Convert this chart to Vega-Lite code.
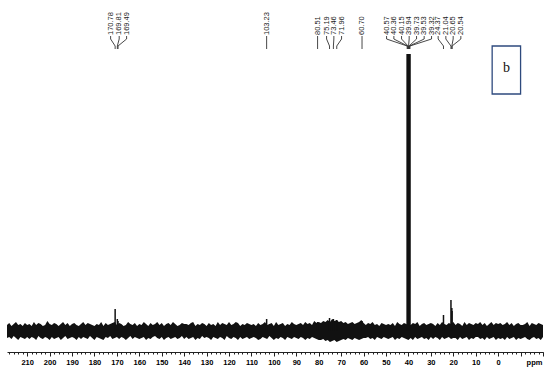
{
  "$schema": "https://vega.github.io/schema/vega-lite/v6.json",
  "width": 536,
  "height": 352,
  "autosize": {"type": "none"},
  "padding": {"left": 7, "right": 7, "top": 0, "bottom": 21},
  "background": "white",
  "config": {"view": {"stroke": null}},
  "resolve": {"axis": {"x": "independent"}},
  "datasets": {
    "noise": [
      {"p":219,"h":6,"l":-7},{"p":218,"h":8,"l":-6},{"p":217,"h":5,"l":-8},{"p":216,"h":7,"l":-5},{"p":215,"h":9,"l":-7},{"p":214,"h":6,"l":-9},{"p":213,"h":7,"l":-6},{"p":212,"h":5,"l":-7},{"p":211,"h":8,"l":-8},{"p":210,"h":6,"l":-6},
      {"p":209,"h":7,"l":-8},{"p":208,"h":5,"l":-6},{"p":207,"h":9,"l":-7},{"p":206,"h":6,"l":-9},{"p":205,"h":8,"l":-5},{"p":204,"h":7,"l":-7},{"p":203,"h":5,"l":-8},{"p":202,"h":6,"l":-6},{"p":201,"h":10,"l":-7},{"p":200,"h":7,"l":-9},
      {"p":199,"h":6,"l":-6},{"p":198,"h":8,"l":-8},{"p":197,"h":7,"l":-7},{"p":196,"h":5,"l":-6},{"p":195,"h":7,"l":-9},{"p":194,"h":9,"l":-7},{"p":193,"h":6,"l":-5},{"p":192,"h":8,"l":-8},{"p":191,"h":5,"l":-7},{"p":190,"h":7,"l":-6},
      {"p":189,"h":8,"l":-7},{"p":188,"h":6,"l":-9},{"p":187,"h":5,"l":-6},{"p":186,"h":7,"l":-8},{"p":185,"h":9,"l":-6},{"p":184,"h":6,"l":-7},{"p":183,"h":8,"l":-8},{"p":182,"h":7,"l":-5},{"p":181,"h":6,"l":-7},{"p":180,"h":5,"l":-9},
      {"p":179,"h":7,"l":-6},{"p":178,"h":6,"l":-7},{"p":177,"h":9,"l":-8},{"p":176,"h":5,"l":-9},{"p":175,"h":8,"l":-6},{"p":174,"h":6,"l":-7},{"p":173,"h":7,"l":-5},{"p":172,"h":8,"l":-8},{"p":171,"h":9,"l":-7},{"p":170,"h":6,"l":-6},
      {"p":169,"h":8,"l":-8},{"p":168,"h":7,"l":-6},{"p":167,"h":5,"l":-7},{"p":166,"h":6,"l":-9},{"p":165,"h":9,"l":-7},{"p":164,"h":7,"l":-5},{"p":163,"h":6,"l":-8},{"p":162,"h":8,"l":-6},{"p":161,"h":5,"l":-7},{"p":160,"h":7,"l":-8},
      {"p":159,"h":6,"l":-7},{"p":158,"h":9,"l":-6},{"p":157,"h":7,"l":-9},{"p":156,"h":5,"l":-7},{"p":155,"h":8,"l":-8},{"p":154,"h":6,"l":-6},{"p":153,"h":7,"l":-5},{"p":152,"h":9,"l":-7},{"p":151,"h":6,"l":-8},{"p":150,"h":8,"l":-6},
      {"p":149,"h":5,"l":-9},{"p":148,"h":7,"l":-7},{"p":147,"h":8,"l":-6},{"p":146,"h":6,"l":-8},{"p":145,"h":9,"l":-7},{"p":144,"h":7,"l":-6},{"p":143,"h":5,"l":-8},{"p":142,"h":6,"l":-7},{"p":141,"h":8,"l":-5},{"p":140,"h":7,"l":-8},
      {"p":139,"h":7,"l":-6},{"p":138,"h":6,"l":-8},{"p":137,"h":8,"l":-7},{"p":136,"h":9,"l":-6},{"p":135,"h":5,"l":-9},{"p":134,"h":7,"l":-7},{"p":133,"h":6,"l":-8},{"p":132,"h":8,"l":-5},{"p":131,"h":7,"l":-7},{"p":130,"h":5,"l":-6},
      {"p":129,"h":8,"l":-7},{"p":128,"h":6,"l":-9},{"p":127,"h":7,"l":-6},{"p":126,"h":5,"l":-7},{"p":125,"h":9,"l":-8},{"p":124,"h":6,"l":-6},{"p":123,"h":8,"l":-7},{"p":122,"h":7,"l":-9},{"p":121,"h":6,"l":-5},{"p":120,"h":9,"l":-7},
      {"p":119,"h":6,"l":-8},{"p":118,"h":7,"l":-6},{"p":117,"h":9,"l":-7},{"p":116,"h":8,"l":-9},{"p":115,"h":5,"l":-6},{"p":114,"h":7,"l":-8},{"p":113,"h":6,"l":-7},{"p":112,"h":8,"l":-6},{"p":111,"h":7,"l":-8},{"p":110,"h":6,"l":-7},
      {"p":109,"h":7,"l":-6},{"p":108,"h":5,"l":-7},{"p":107,"h":8,"l":-9},{"p":106,"h":6,"l":-8},{"p":105,"h":7,"l":-6},{"p":104,"h":9,"l":-7},{"p":103,"h":6,"l":-8},{"p":102,"h":7,"l":-5},{"p":101,"h":8,"l":-7},{"p":100,"h":5,"l":-9},
      {"p":99,"h":9,"l":-7},{"p":98,"h":6,"l":-8},{"p":97,"h":7,"l":-6},{"p":96,"h":8,"l":-7},{"p":95,"h":5,"l":-9},{"p":94,"h":7,"l":-6},{"p":93,"h":6,"l":-7},{"p":92,"h":9,"l":-8},{"p":91,"h":7,"l":-6},{"p":90,"h":6,"l":-7},
      {"p":89,"h":7,"l":-8},{"p":88,"h":8,"l":-6},{"p":87,"h":6,"l":-7},{"p":86,"h":9,"l":-9},{"p":85,"h":7,"l":-7},{"p":84,"h":8,"l":-8},{"p":83,"h":6,"l":-6},{"p":82,"h":10,"l":-7},{"p":81,"h":8,"l":-8},{"p":80,"h":9,"l":-9},
      {"p":79,"h":8,"l":-9},{"p":78,"h":10,"l":-8},{"p":77,"h":9,"l":-10},{"p":76,"h":11,"l":-9},{"p":75,"h":9,"l":-11},{"p":74,"h":12,"l":-10},{"p":73,"h":10,"l":-9},{"p":72,"h":11,"l":-11},{"p":71,"h":9,"l":-10},{"p":70,"h":10,"l":-9},
      {"p":69,"h":8,"l":-8},{"p":68,"h":9,"l":-9},{"p":67,"h":7,"l":-7},{"p":66,"h":8,"l":-8},{"p":65,"h":9,"l":-9},{"p":64,"h":7,"l":-7},{"p":63,"h":8,"l":-8},{"p":62,"h":9,"l":-9},{"p":61,"h":11,"l":-8},{"p":60,"h":8,"l":-7},
      {"p":59,"h":6,"l":-7},{"p":58,"h":8,"l":-6},{"p":57,"h":7,"l":-8},{"p":56,"h":9,"l":-7},{"p":55,"h":6,"l":-9},{"p":54,"h":7,"l":-6},{"p":53,"h":5,"l":-7},{"p":52,"h":8,"l":-8},{"p":51,"h":7,"l":-6},{"p":50,"h":6,"l":-7},
      {"p":49,"h":7,"l":-8},{"p":48,"h":6,"l":-7},{"p":47,"h":8,"l":-6},{"p":46,"h":5,"l":-9},{"p":45,"h":9,"l":-7},{"p":44,"h":7,"l":-8},{"p":43,"h":6,"l":-6},{"p":42,"h":8,"l":-7},{"p":41,"h":7,"l":-8},{"p":40,"h":6,"l":-9},
      {"p":39,"h":6,"l":-7},{"p":38,"h":8,"l":-9},{"p":37,"h":7,"l":-6},{"p":36,"h":9,"l":-8},{"p":35,"h":5,"l":-7},{"p":34,"h":7,"l":-6},{"p":33,"h":8,"l":-8},{"p":32,"h":6,"l":-7},{"p":31,"h":7,"l":-9},{"p":30,"h":8,"l":-6},
      {"p":29,"h":7,"l":-8},{"p":28,"h":5,"l":-6},{"p":27,"h":8,"l":-7},{"p":26,"h":6,"l":-9},{"p":25,"h":9,"l":-6},{"p":24,"h":7,"l":-8},{"p":23,"h":6,"l":-7},{"p":22,"h":8,"l":-6},{"p":21,"h":7,"l":-8},{"p":20,"h":9,"l":-7},
      {"p":19,"h":6,"l":-7},{"p":18,"h":8,"l":-9},{"p":17,"h":7,"l":-6},{"p":16,"h":5,"l":-8},{"p":15,"h":9,"l":-7},{"p":14,"h":6,"l":-6},{"p":13,"h":8,"l":-9},{"p":12,"h":7,"l":-7},{"p":11,"h":6,"l":-8},{"p":10,"h":8,"l":-6},
      {"p":9,"h":7,"l":-6},{"p":8,"h":9,"l":-8},{"p":7,"h":6,"l":-7},{"p":6,"h":8,"l":-9},{"p":5,"h":5,"l":-6},{"p":4,"h":7,"l":-8},{"p":3,"h":9,"l":-7},{"p":2,"h":6,"l":-6},{"p":1,"h":8,"l":-9},{"p":0,"h":7,"l":-7},
      {"p":-1,"h":8,"l":-8},{"p":-2,"h":6,"l":-7},{"p":-3,"h":7,"l":-9},{"p":-4,"h":9,"l":-6},{"p":-5,"h":6,"l":-8},{"p":-6,"h":8,"l":-7},{"p":-7,"h":5,"l":-6},{"p":-8,"h":7,"l":-9},{"p":-9,"h":8,"l":-7},{"p":-10,"h":6,"l":-8},
      {"p":-11,"h":6,"l":-7},{"p":-12,"h":7,"l":-6},{"p":-13,"h":9,"l":-8},{"p":-14,"h":5,"l":-9},{"p":-15,"h":8,"l":-7},{"p":-16,"h":7,"l":-6},{"p":-17,"h":6,"l":-8},{"p":-18,"h":8,"l":-7},{"p":-19,"h":7,"l":-9},{"p":-20,"h":6,"l":-6}
    ],
    "peaks": [
      {"p":170.78,"h":22},{"p":169.81,"h":12},{"p":169.49,"h":10},
      {"p":103.23,"h":12},
      {"p":80.51,"h":9},{"p":75.19,"h":13},{"p":73.46,"h":12},{"p":71.96,"h":11},
      {"p":60.70,"h":10},
      {"p":40.57,"h":277},{"p":40.36,"h":277},{"p":40.15,"h":277},{"p":39.94,"h":277},{"p":39.73,"h":277},{"p":39.53,"h":277},{"p":39.32,"h":277},
      {"p":24.37,"h":16},{"p":21.04,"h":31},{"p":20.65,"h":23},{"p":20.54,"h":20}
    ],
    "labels": [
      {"t":"170.78","lp":172.8,"pk":170.78},
      {"t":"169.81","lp":168.97,"pk":169.81},
      {"t":"169.49","lp":165.67,"pk":169.49},
      {"t":"103.23","lp":103.23,"pk":103.23},
      {"t":"80.51","lp":80.51,"pk":80.51},
      {"t":"75.19","lp":76.5,"pk":75.19},
      {"t":"73.46","lp":73.25,"pk":73.46},
      {"t":"71.96","lp":69.82,"pk":71.96},
      {"t":"60.70","lp":60.7,"pk":60.7},
      {"t":"40.57","lp":49.75,"pk":40.57},
      {"t":"40.36","lp":46.5,"pk":40.36},
      {"t":"40.15","lp":43.07,"pk":40.15},
      {"t":"39.94","lp":39.68,"pk":39.94},
      {"t":"39.73","lp":36.38,"pk":39.73},
      {"t":"39.53","lp":32.99,"pk":39.53},
      {"t":"39.32","lp":29.69,"pk":39.32},
      {"t":"24.37","lp":26.75,"pk":24.37},
      {"t":"21.04","lp":23.32,"pk":21.04},
      {"t":"20.65","lp":20.06,"pk":20.65},
      {"t":"20.54","lp":16.63,"pk":20.54}
    ]
  },
  "layer": [
    {
      "data": {"name": "noise"},
      "mark": {"type": "area", "color": "#111111", "interpolate": "linear"},
      "encoding": {
        "x": {
          "field": "p", "type": "quantitative",
          "scale": {"domain": [-20, 219], "reverse": true, "nice": false, "zero": false},
          "axis": {
            "orient": "bottom",
            "values": [-20,-18,-16,-14,-12,-10,-8,-6,-4,-2,0,2,4,6,8,10,12,14,16,18,20,22,24,26,28,30,32,34,36,38,40,42,44,46,48,50,52,54,56,58,60,62,64,66,68,70,72,74,76,78,80,82,84,86,88,90,92,94,96,98,100,102,104,106,108,110,112,114,116,118,120,122,124,126,128,130,132,134,136,138,140,142,144,146,148,150,152,154,156,158,160,162,164,166,168,170,172,174,176,178,180,182,184,186,188,190,192,194,196,198,200,202,204,206,208,210,212,214,216,218],
            "labelExpr": "datum.value == -16 ? 'ppm' : ((datum.value % 10 == 0 && datum.value >= 0 && datum.value <= 210) ? datum.label : '')",
            "tickSize": 2,
            "labelOverlap": false,
            "labelFlush": false,
            "labelBound": false,
            "title": null,
            "grid": false,
            "domainColor": "#222222",
            "domainWidth": 1,
            "tickColor": "#222222",
            "tickWidth": 1,
            "labelColor": "#000000",
            "labelFont": "Liberation Sans",
            "labelFontSize": 7.5,
            "labelFontWeight": "bold",
            "labelPadding": 4
          }
        },
        "y": {"field": "h", "type": "quantitative", "scale": {"domain": [-21, 331], "nice": false, "zero": false}, "axis": null},
        "y2": {"field": "l"}
      }
    },
    {
      "data": {"name": "peaks"},
      "mark": {"type": "rule", "color": "#111111", "strokeWidth": 1.5},
      "encoding": {
        "x": {"field": "p", "type": "quantitative", "scale": {"domain": [-20, 219], "reverse": true, "nice": false, "zero": false},
          "axis": {"orient": "bottom", "values": [-20,-10,0,10,20,30,40,50,60,70,80,90,100,110,120,130,140,150,160,170,180,190,200,210], "tickSize": 4, "labels": false, "domain": false, "title": null, "grid": false, "tickColor": "#222222", "tickWidth": 1}},
        "y": {"field": "h", "type": "quantitative", "scale": {"domain": [-21, 331], "nice": false, "zero": false}, "axis": null},
        "y2": {"datum": 0}
      }
    },
    {
      "data": {"name": "labels"},
      "mark": {"type": "rule", "color": "#333333", "strokeWidth": 0.9},
      "encoding": {
        "x": {"field": "lp", "type": "quantitative", "scale": {"domain": [-20, 219], "reverse": true, "nice": false, "zero": false}, "axis": null},
        "y": {"datum": 295, "type": "quantitative", "scale": {"domain": [-21, 331], "nice": false, "zero": false}, "axis": null},
        "y2": {"datum": 292}
      }
    },
    {
      "data": {"name": "labels"},
      "mark": {"type": "rule", "color": "#333333", "strokeWidth": 0.9},
      "encoding": {
        "x": {"field": "lp", "type": "quantitative", "scale": {"domain": [-20, 219], "reverse": true, "nice": false, "zero": false}, "axis": null},
        "x2": {"field": "pk"},
        "y": {"datum": 292, "type": "quantitative", "scale": {"domain": [-21, 331], "nice": false, "zero": false}, "axis": null},
        "y2": {"datum": 285}
      }
    },
    {
      "data": {"name": "labels"},
      "mark": {"type": "rule", "color": "#333333", "strokeWidth": 0.9},
      "encoding": {
        "x": {"field": "pk", "type": "quantitative", "scale": {"domain": [-20, 219], "reverse": true, "nice": false, "zero": false}, "axis": null},
        "y": {"datum": 285, "type": "quantitative", "scale": {"domain": [-21, 331], "nice": false, "zero": false}, "axis": null},
        "y2": {"datum": 282}
      }
    },
    {
      "data": {"name": "labels"},
      "mark": {"type": "text", "angle": 270, "align": "left", "baseline": "middle", "font": "Liberation Sans", "fontSize": 7.5, "color": "#222222"},
      "encoding": {
        "x": {"field": "lp", "type": "quantitative", "scale": {"domain": [-20, 219], "reverse": true, "nice": false, "zero": false}, "axis": null},
        "y": {"datum": 296, "type": "quantitative", "scale": {"domain": [-21, 331], "nice": false, "zero": false}, "axis": null},
        "text": {"field": "t"}
      }
    },
    {
      "data": {"values": [{"t": "b"}]},
      "mark": {"type": "rect", "fill": "white", "stroke": "#2E4A7D", "strokeWidth": 1.3},
      "encoding": {
        "x": {"datum": 2.67, "type": "quantitative", "scale": {"domain": [-20, 219], "reverse": true, "nice": false, "zero": false}, "axis": null},
        "x2": {"datum": -10},
        "y": {"datum": 285, "type": "quantitative", "scale": {"domain": [-21, 331], "nice": false, "zero": false}, "axis": null},
        "y2": {"datum": 237}
      }
    },
    {
      "data": {"values": [{"t": "b"}]},
      "mark": {"type": "text", "align": "center", "baseline": "alphabetic", "font": "Liberation Serif", "fontSize": 14, "color": "#111111"},
      "encoding": {
        "x": {"datum": -3.7, "type": "quantitative", "scale": {"domain": [-20, 219], "reverse": true, "nice": false, "zero": false}, "axis": null},
        "y": {"datum": 259, "type": "quantitative", "scale": {"domain": [-21, 331], "nice": false, "zero": false}, "axis": null},
        "text": {"field": "t"}
      }
    }
  ]
}
